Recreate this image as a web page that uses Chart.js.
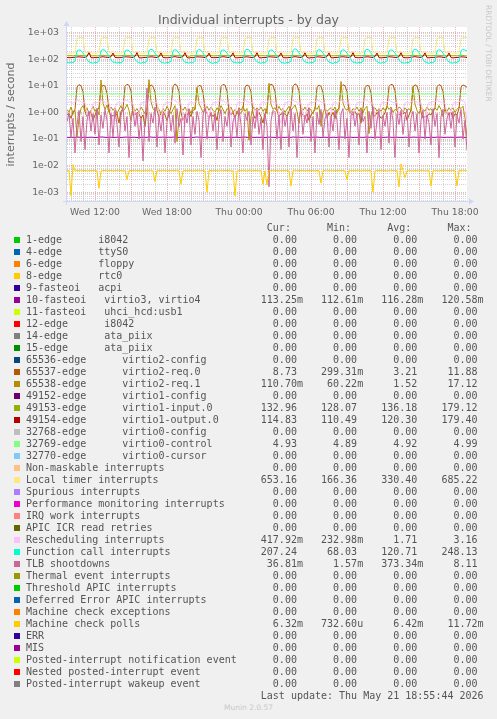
<!DOCTYPE html>
<html>
<head>
<meta charset="utf-8">
<title>Individual interrupts - by day</title>
<script src="https://cdn.jsdelivr.net/npm/chart.js@4.4.1/dist/chart.umd.min.js"></script>
<style>
  html, body { margin: 0; padding: 0; background: #F0F0F0; }
  #wrap { position: relative; width: 497px; height: 719px; overflow: hidden; }
  #chart { position: absolute; left: 0; top: 0; }
  .title { position: absolute; left: 0; top: 12px; width: 497px; text-align: center;
           font: 12.5px 'DejaVu Sans'; line-height: 15px; color: #666; }
  .brand { position: absolute; left: 484px; top: 5px; writing-mode: vertical-rl;
           font: 7.5px 'DejaVu Sans'; color: #C8C8C8; white-space: nowrap; }
  .munin { position: absolute; left: 0; top: 702px; width: 497px; text-align: center;
           font: 7.5px 'DejaVu Sans'; line-height: 11px; color: #C8C8C8; }
  #legend { position: absolute; left: 26px; top: 222px; margin: 0;
            font: 10px 'DejaVu Sans Mono'; line-height: 12px; color: #555; white-space: pre; }
  .sw { position: absolute; left: 14px; width: 6px; height: 6px; }
</style>
</head>
<body>
<div id="wrap">
  <canvas id="chart" width="497" height="230"></canvas>
  <div class="title">Individual interrupts - by day</div>
  <div class="brand">RRDTOOL / TOBI OETIKER</div>
  <pre id="legend"></pre>
  <div class="munin">Munin 2.0.57</div>
</div>
<script>
// 10 minute samples, Wed 09:40 .. Thu 19:00 (hours counted from Wed 00:00)
const startHour = 9 + 40 / 60;
const stepHour = 10 / 60;
const endHour = 43;

const xTickHours = [12, 18, 24, 30, 36, 42];
const xTickLabels = ['Wed 12:00', 'Wed 18:00', 'Thu 00:00', 'Thu 06:00', 'Thu 12:00', 'Thu 18:00'];
const yDecades = [1e-3, 1e-2, 1e-1, 1, 10, 100, 1000];
const yTickLabels = ['1e-03', '1e-02', '1e-01', '1e+00', '1e+01', '1e+02', '1e+03'];
const yMin = 4.28e-4, yMax = 1630;

// legend rows
const labels = [
  '1-edge      i8042', '4-edge      ttyS0', '6-edge      floppy', '8-edge      rtc0',
  '9-fasteoi   acpi', '10-fasteoi   virtio3, virtio4', '11-fasteoi   uhci_hcd:usb1',
  '12-edge      i8042', '14-edge      ata_piix', '15-edge      ata_piix',
  '65536-edge      virtio2-config', '65537-edge      virtio2-req.0', '65538-edge      virtio2-req.1',
  '49152-edge      virtio1-config', '49153-edge      virtio1-input.0', '49154-edge      virtio1-output.0',
  '32768-edge      virtio0-config', '32769-edge      virtio0-control', '32770-edge      virtio0-cursor',
  'Non-maskable interrupts', 'Local timer interrupts', 'Spurious interrupts',
  'Performance monitoring interrupts', 'IRQ work interrupts', 'APIC ICR read retries',
  'Rescheduling interrupts', 'Function call interrupts', 'TLB shootdowns',
  'Thermal event interrupts', 'Threshold APIC interrupts', 'Deferred Error APIC interrupts',
  'Machine check exceptions', 'Machine check polls', 'ERR', 'MIS',
  'Posted-interrupt notification event', 'Nested posted-interrupt event', 'Posted-interrupt wakeup event'
];
const colors = [
  '#00CC00', '#0066B3', '#FF8000', '#FFCC00', '#330099', '#990099', '#CCFF00', '#FF0000', '#808080',
  '#008F00', '#00487D', '#B35A00', '#B38F00', '#6B006B', '#8FB300', '#B30000', '#BEBEBE', '#80FF80',
  '#80C9FF', '#FFC080', '#FFE680', '#AA80FF', '#EE00CC', '#FF8080', '#666600', '#FFBFFF', '#00FFCC',
  '#CC6699', '#999900', '#00CC00', '#0066B3', '#FF8000', '#FFCC00', '#330099', '#990099', '#CCFF00',
  '#FF0000', '#808080'
];
const curVals = ['0.00','0.00','0.00','0.00','0.00','113.25m','0.00','0.00','0.00','0.00','0.00','8.73','110.70m',
  '0.00','132.96','114.83','0.00','4.93','0.00','0.00','653.16','0.00','0.00','0.00','0.00','417.92m','207.24',
  '36.81m','0.00','0.00','0.00','0.00','6.32m','0.00','0.00','0.00','0.00','0.00'];
const minVals = ['0.00','0.00','0.00','0.00','0.00','112.61m','0.00','0.00','0.00','0.00','0.00','299.31m','60.22m',
  '0.00','128.07','110.49','0.00','4.89','0.00','0.00','166.36','0.00','0.00','0.00','0.00','232.98m','68.03',
  '1.57m','0.00','0.00','0.00','0.00','732.60u','0.00','0.00','0.00','0.00','0.00'];
const avgVals = ['0.00','0.00','0.00','0.00','0.00','116.28m','0.00','0.00','0.00','0.00','0.00','3.21','1.52',
  '0.00','136.18','120.30','0.00','4.92','0.00','0.00','330.40','0.00','0.00','0.00','0.00','1.71','120.71',
  '373.34m','0.00','0.00','0.00','0.00','6.42m','0.00','0.00','0.00','0.00','0.00'];
const maxVals = ['0.00','0.00','0.00','0.00','0.00','120.58m','0.00','0.00','0.00','0.00','0.00','11.88','17.12',
  '0.00','179.12','179.40','0.00','4.99','0.00','0.00','685.22','0.00','0.00','0.00','0.00','3.16','248.13',
  '8.11','0.00','0.00','0.00','0.00','11.72m','0.00','0.00','0.00','0.00','0.00'];
const lastUpdate = 'Last update: Thu May 21 18:55:44 2026';

// series (one row = 2 hours)
const fasteoi10 = [
  0.116,0.115,0.117,0.116,0.114,0.118,0.117,0.115,0.116,0.117,0.115,0.116,
  0.117,0.116,0.114,0.115,0.117,0.119,0.118,0.116,0.115,0.116,0.117,0.115,
  0.115,0.117,0.116,0.114,0.116,0.118,0.117,0.116,0.115,0.117,0.116,0.114,
  0.116,0.115,0.117,0.116,0.115,0.121,0.118,0.116,0.117,0.115,0.116,0.117,
  0.117,0.116,0.115,0.117,0.116,0.118,0.117,0.115,0.116,0.116,0.117,0.115,
  0.115,0.117,0.116,0.115,0.117,0.119,0.116,0.117,0.115,0.116,0.118,0.116,
  0.116,0.115,0.117,0.116,0.114,0.117,0.118,0.116,0.115,0.117,0.116,0.115,
  0.117,0.116,0.115,0.116,0.117,0.118,0.116,0.115,0.117,0.116,0.115,0.117,
  0.115,0.117,0.116,0.1126,0.116,0.118,0.117,0.116,0.115,0.117,0.116,0.115,
  0.116,0.115,0.117,0.116,0.115,0.119,0.117,0.116,0.117,0.115,0.116,0.117,
  0.117,0.116,0.115,0.117,0.116,0.118,0.116,0.115,0.116,0.117,0.115,0.116,
  0.115,0.117,0.116,0.115,0.117,0.118,0.117,0.116,0.115,0.116,0.117,0.115,
  0.116,0.115,0.117,0.116,0.115,0.117,0.118,0.116,0.117,0.115,0.116,0.117,
  0.117,0.116,0.115,0.116,0.117,0.119,0.116,0.115,0.116,0.117,0.115,0.116,
  0.115,0.117,0.116,0.115,0.116,0.118,0.117,0.116,0.115,0.117,0.116,0.115,
  0.116,0.115,0.117,0.116,0.115,0.118,0.116,0.117,0.116,0.115,0.117,0.116,
  0.117,0.116,0.115,0.116,0.117,0.118,0.116,0.115,0.11325
];
const virtio2Req0 = [
  0.8,0.9,0.6,1.0,1.3,9.0,11.2,10.1,6.0,1.1,0.7,0.9,
  1.0,0.5,0.8,1.2,1.5,8.4,10.6,9.8,5.2,1.3,0.6,0.8,
  0.7,0.9,0.4,1.1,1.4,9.6,11.5,10.4,6.4,0.9,0.8,1.0,
  0.9,0.6,0.8,0.3,1.2,8.8,10.9,9.5,5.8,1.2,0.7,0.9,
  1.1,0.8,0.5,0.9,1.6,9.2,11.8,10.2,6.1,1.0,0.5,0.8,
  0.8,1.0,0.7,1.2,1.3,8.6,10.4,9.9,5.5,1.4,0.9,0.6,
  0.9,0.7,0.9,0.5,1.5,9.4,11.3,10.6,6.3,1.1,0.8,1.0,
  0.6,1.1,0.8,1.0,1.2,8.9,10.8,9.7,5.9,0.9,0.6,0.8,
  1.0,0.7,0.4,0.9,1.4,9.1,11.6,10.3,6.2,1.2,0.7,0.9,
  0.8,0.9,0.7,1.1,1.7,9.7,11.88,10.5,6.5,1.0,0.8,0.6,
  0.9,0.5,0.8,1.0,1.3,8.7,10.7,9.6,5.6,1.3,0.6,1.0,
  0.7,1.0,0.6,1.2,1.5,9.3,11.1,10.0,6.0,1.1,0.9,0.8,
  1.1,0.8,0.9,0.4,1.4,8.5,10.5,9.9,5.4,0.9,0.7,1.0,
  0.8,0.6,0.7,1.0,1.6,9.5,11.4,10.7,6.6,1.2,0.8,0.9,
  0.9,1.0,0.5,0.8,1.2,8.8,10.9,9.8,5.7,1.0,0.6,0.7,
  0.7,0.9,0.8,1.1,1.5,9.2,11.2,10.1,6.2,1.3,0.9,0.8,
  1.0,0.6,0.9,0.8,1.4,9.0,10.8,9.9,8.73
];
const virtio2Req1 = [
  1.3,1.0,1.6,0.9,1.2,0.12,0.6,1.4,1.8,1.1,1.5,0.9,
  1.2,1.7,1.1,1.4,0.8,16.5,2.2,1.3,1.9,1.0,1.6,1.2,
  1.5,0.9,1.3,1.8,1.1,1.4,2.0,1.2,0.5,1.6,1.1,1.4,
  1.0,1.6,1.2,0.9,1.5,17.12,2.5,1.4,1.1,1.7,1.3,0.9,
  1.4,1.1,1.7,1.2,0.9,1.3,1.8,0.08,0.6,1.5,1.2,1.6,
  1.1,1.4,0.9,1.6,1.3,8.5,2.1,1.5,1.0,1.3,1.7,1.2,
  1.6,1.2,1.0,1.5,1.1,1.8,1.3,0.9,1.4,1.2,1.6,1.0,
  1.3,0.9,1.5,1.2,1.7,1.1,1.4,0.09,0.7,1.6,1.2,1.5,
  1.2,1.6,1.1,1.4,0.9,12.5,2.0,1.3,1.5,1.1,1.7,1.2,
  1.4,1.0,1.3,1.7,1.2,1.5,1.9,1.1,0.4,1.5,1.2,1.6,
  1.1,1.5,1.2,0.9,1.6,1.3,1.8,0.3,1.0,1.4,1.1,1.3,
  1.5,1.2,1.6,1.0,1.3,14.5,2.3,1.4,1.2,1.6,1.0,1.4,
  1.2,1.6,1.1,1.5,1.0,1.4,1.7,0.16,0.8,1.3,1.5,1.1,
  1.4,1.1,1.5,1.2,1.7,1.3,1.6,1.0,1.3,1.2,1.6,1.4,
  1.0,1.5,1.2,1.4,1.1,9.5,2.0,1.2,0.9,1.5,1.3,1.1,
  1.6,1.2,1.4,1.0,1.5,1.2,1.8,1.3,0.7,1.4,1.1,1.5,
  1.2,1.5,1.0,1.3,1.6,1.4,1.7,0.6,0.1107
];
const virtio1Input = [
  136,135,137,134,138,140,141,138,136,135,137,179,
  135,134,136,133,137,139,140,138,135,134,136,141,
  136,135,134,136,138,141,140,137,136,135,137,142,
  134,136,135,137,136,140,139,138,135,136,134,140,
  136,135,137,134,138,141,140,137,136,135,137,142,
  135,128,136,135,137,139,141,138,135,134,136,141,
  137,135,134,136,138,140,139,138,136,135,137,140,
  134,136,135,137,136,141,140,137,135,136,134,142,
  136,135,137,134,138,140,141,138,136,135,137,141,
  135,134,136,135,137,139,140,138,135,134,136,140,
  136,135,134,136,138,141,139,137,136,135,137,142,
  134,136,135,137,136,140,141,138,135,136,134,141,
  136,135,137,134,138,139,140,137,136,135,137,140,
  135,134,136,135,137,141,140,138,135,134,136,142,
  137,135,134,136,138,140,139,137,136,135,137,141,
  134,136,135,137,136,141,140,138,135,136,134,140,
  136,135,137,134,138,140,139,135,132.96
];
const virtio1Output = [
  116,114,115,117,119,122,123,121,119,117,126,176,
  115,113,116,114,118,121,124,120,118,116,125,172,
  117,115,114,116,120,123,122,121,119,115,127,179,
  114,112,115,117,118,121,123,122,117,116,124,174,
  116,114,113,115,119,122,125,120,118,117,126,177,
  115,111,116,114,120,123,122,121,119,115,125,171,
  117,115,114,116,118,121,124,122,118,116,127,175,
  114,113,115,117,119,122,123,120,117,115,124,178,
  116,112,116,115,120,124,122,121,119,117,126,173,
  115,114,113,116,118,121,125,122,118,116,125,176,
  117,110.5,115,114,119,123,122,120,117,115,127,174,
  114,113,116,117,120,122,124,121,119,116,124,179.4,
  116,115,114,115,118,121,123,122,118,117,126,172,
  115,112,115,116,119,124,122,120,117,115,125,177,
  117,114,113,114,120,122,125,121,119,116,127,175,
  114,113,116,117,118,121,123,122,118,115,124,173,
  116,112,115,116,119,123,122,120,114.83
];
const virtio0Control = [
  4.92,4.91,4.93,4.92,4.90,4.94,4.92,4.91,4.93,4.92,4.91,4.95,
  4.92,4.93,4.91,4.92,4.90,4.93,4.94,4.92,4.91,4.92,4.93,4.92,
  4.91,4.92,4.93,4.90,4.92,4.94,4.93,4.91,4.92,4.93,4.91,4.92,
  4.93,4.92,4.91,4.92,4.93,4.99,4.94,4.92,4.91,4.92,4.90,4.93,
  4.92,4.91,4.92,4.93,4.91,4.94,4.92,4.93,4.92,4.91,4.92,4.92,
  4.91,4.93,4.92,4.91,4.92,4.93,4.94,4.92,4.91,4.93,4.92,4.91,
  4.92,4.92,4.89,4.92,4.93,4.94,4.92,4.91,4.92,4.93,4.91,4.92,
  4.93,4.91,4.92,4.93,4.92,4.93,4.94,4.92,4.91,4.92,4.93,4.92,
  4.92,4.93,4.91,4.92,4.91,4.94,4.93,4.92,4.93,4.91,4.92,4.93,
  4.91,4.92,4.93,4.91,4.92,4.93,4.92,4.91,4.92,4.93,4.92,4.91,
  4.92,4.91,4.92,4.93,4.91,4.95,4.93,4.92,4.91,4.92,4.93,4.92,
  4.93,4.92,4.91,4.92,4.93,4.93,4.92,4.91,4.93,4.92,4.91,4.92,
  4.92,4.93,4.92,4.91,4.92,4.94,4.93,4.92,4.92,4.91,4.92,4.93,
  4.91,4.92,4.93,4.92,4.91,4.93,4.94,4.92,4.91,4.93,4.92,4.91,
  4.92,4.91,4.92,4.93,4.92,4.94,4.92,4.91,4.92,4.92,4.93,4.92,
  4.93,4.92,4.91,4.92,4.93,4.93,4.92,4.93,4.91,4.92,4.91,4.92,
  4.92,4.93,4.92,4.91,4.92,4.94,4.93,4.92,4.93
];
const localTimer = [
  172,169,174,170,177,618,662,648,640,181,176,198,
  171,168,173,171,176,605,651,660,636,179,174,205,
  173,170,172,169,178,622,668,655,642,183,177,201,
  171,167,175,170,175,610,657,649,633,180,173,196,
  169,168,171,172,177,615,663,671,645,178,175,203,
  172,170,174,168,179,608,650,646,630,182,176,199,
  170,166.4,172,171,176,620,672,660,648,180,174,207,
  173,169,175,170,178,612,659,652,637,177,178,195,
  171,168,173,169,177,606,648,664,641,181,175,202,
  172,170,171,172,176,618,676,685.2,650,179,173,198,
  170,167,174,170,178,611,656,648,634,183,176,204,
  173,169,172,171,175,616,662,657,643,180,174,197,
  171,168,175,169,177,609,653,661,639,178,177,201,
  172,166.5,173,170,179,621,670,654,646,182,175,206,
  170,169,171,172,176,613,658,650,636,179,173,196,
  173,170,174,168,178,607,651,667,644,181,176,203,
  171,168,172,170,177,615,660,658,653.16
];
const rescheduling = [
  2.3,2.5,2.4,2.2,2.6,2.9,2.7,2.5,2.3,2.4,0.8,0.5,
  0.9,2.2,2.4,2.3,2.5,2.8,2.6,2.4,2.2,2.3,1.1,0.4,
  1.4,2.3,2.5,2.2,2.4,3.0,2.8,2.5,2.3,2.2,0.7,0.35,
  1.0,2.4,2.3,2.5,2.6,2.9,2.6,2.4,2.3,2.4,0.9,0.6,
  1.6,2.2,2.4,2.3,2.5,3.16,2.7,2.5,2.2,2.3,0.6,0.3,
  1.2,2.3,2.5,2.2,2.4,2.8,2.6,2.4,2.3,2.2,1.0,0.5,
  1.5,2.4,2.3,2.4,2.6,2.9,2.7,2.5,2.2,2.3,0.8,0.233,
  0.9,2.2,2.4,2.3,2.5,2.8,2.6,2.4,2.3,2.4,1.2,0.45,
  1.3,2.3,2.5,2.2,2.4,3.0,2.8,2.5,2.3,2.2,0.7,0.4,
  1.1,2.4,2.3,2.5,2.6,2.9,2.6,2.4,2.2,2.3,0.9,0.55,
  1.6,2.2,2.4,2.3,2.5,2.8,2.7,2.5,2.3,2.4,0.6,0.3,
  1.0,2.3,2.5,2.2,2.4,2.9,2.6,2.4,2.2,2.3,1.1,0.5,
  1.4,2.4,2.3,2.4,2.6,3.0,2.8,2.5,2.3,2.2,0.8,0.35,
  0.9,2.2,2.4,2.3,2.5,2.8,2.6,2.4,2.3,2.4,0.7,0.45,
  1.2,2.3,2.5,2.2,2.4,2.9,2.7,2.5,2.2,2.3,1.0,0.4,
  1.5,2.4,2.3,2.5,2.6,2.8,2.6,2.4,2.3,2.2,0.9,0.5,
  1.1,2.2,2.4,2.3,2.5,2.9,2.7,2.5,0.418
];
const functionCall = [
  76,73,78,74,86,208,226,214,172,128,98,79,
  74,71,77,75,88,212,231,219,168,131,95,77,
  77,72,76,73,84,205,224,210,175,126,101,80,
  75,70,78,74,87,215,236,221,170,133,97,78,
  73,72,75,76,85,209,229,216,166,129,94,76,
  76,71,79,73,89,211,233,218,173,127,99,79,
  74,69,77,75,86,207,225,212,169,132,96,77,
  77,72,76,74,84,214,238,224,176,130,100,80,
  75,70,78,73,88,206,227,213,167,128,95,76,
  73,71,75,76,85,218,248,226,174,134,98,79,
  76,72,77,74,87,210,230,217,171,129,97,78,
  74,68,78,75,86,208,228,215,168,131,96,77,
  77,71,76,73,84,213,235,222,173,127,101,80,
  75,70,79,74,89,209,226,214,170,133,94,76,
  73,72,75,76,85,216,240,223,175,130,99,79,
  76,69,77,74,87,207,229,216,169,128,97,78,
  74,71,78,75,86,212,231,219,207.24
];
const tlbShootdowns = [
  0.45,0.9,0.12,0.6,0.03,0.35,1.2,0.08,0.7,0.04,0.5,1.1,
  0.2,0.9,0.15,1.4,0.06,0.8,0.25,1.3,0.5,0.03,0.9,0.12,
  1.2,0.35,0.05,0.8,1.5,0.2,0.7,0.02,0.6,1.1,0.3,0.9,
  0.1,0.6,0.015,0.5,8.11,0.08,0.9,0.4,1.6,0.05,0.7,0.2,
  0.9,0.03,0.45,1.2,0.2,0.8,0.07,1.4,0.3,0.6,0.025,0.9,
  0.4,1.3,0.06,0.7,0.15,1.1,0.5,0.02,0.8,1.5,0.1,0.6,
  1.0,0.2,0.9,0.04,0.55,1.3,0.08,0.7,0.3,1.2,0.05,0.45,
  0.8,0.12,1.4,0.35,0.03,0.9,0.5,1.1,0.06,0.7,0.25,1.3,
  0.15,0.6,0.04,0.9,0.3,0.0016,0.5,1.2,1.0,0.1,0.8,0.04,
  1.1,0.3,0.7,0.05,1.4,0.2,0.9,0.02,0.6,1.2,0.15,0.8,
  0.4,1.5,0.08,0.7,0.03,1.0,0.35,1.3,0.12,0.6,0.9,0.05,
  0.7,0.2,1.2,0.5,0.04,0.9,1.4,0.1,0.6,0.02,0.8,1.1,
  0.3,0.9,0.06,1.3,0.45,0.7,0.03,1.1,0.25,1.6,0.1,0.5,
  1.2,0.04,0.8,0.3,1.0,0.07,1.4,0.5,0.02,0.9,0.35,1.2,
  0.15,0.7,1.3,0.05,0.6,1.1,0.2,0.9,0.03,0.5,1.2,0.1,
  0.8,0.4,0.06,1.4,0.3,0.9,0.02,0.7,1.3,0.15,0.6,1.0,
  0.25,1.1,0.05,0.8,0.4,1.3,0.1,0.5,0.0368
];
const machineCheckPolls = [
  0.0064,0.0067,0.00075,0.0110,0.0063,0.0066,0.0065,0.0068,0.0064,0.0066,0.0063,0.0065,
  0.0066,0.0064,0.0067,0.0063,0.0014,0.0062,0.0066,0.0065,0.0068,0.0064,0.0066,0.0063,
  0.0065,0.0067,0.0064,0.0066,0.0063,0.0068,0.0030,0.0064,0.0066,0.0065,0.0067,0.0064,
  0.0066,0.0063,0.0065,0.0067,0.0064,0.0066,0.0068,0.0063,0.0025,0.0065,0.0066,0.0064,
  0.0067,0.0065,0.0063,0.0066,0.0064,0.0067,0.0065,0.0068,0.0064,0.0020,0.0063,0.0066,
  0.0065,0.0064,0.0067,0.0063,0.0066,0.0065,0.0068,0.0064,0.0066,0.0063,0.0010,0.0065,
  0.0066,0.0064,0.0067,0.0065,0.0063,0.0068,0.0064,0.0066,0.0065,0.0067,0.0063,0.0065,
  0.00073,0.0062,0.0066,0.0064,0.0067,0.0065,0.0063,0.0066,0.0068,0.0064,0.0066,0.0065,
  0.0063,0.0067,0.0020,0.0064,0.0019,0.0066,0.0065,0.0067,0.0064,0.0066,0.0063,0.0065,
  0.0066,0.0064,0.0067,0.0063,0.0017,0.0065,0.0068,0.0064,0.0066,0.0065,0.0067,0.0063,
  0.0065,0.0066,0.0064,0.0067,0.0063,0.0066,0.0065,0.0022,0.0064,0.0066,0.0068,0.0064,
  0.0067,0.0063,0.0065,0.0066,0.0064,0.0067,0.0065,0.0063,0.0030,0.0066,0.0064,0.0065,
  0.0064,0.0066,0.0068,0.0063,0.0065,0.0067,0.0064,0.0066,0.0065,0.0010,0.0063,0.0066,
  0.0065,0.0067,0.0064,0.0066,0.0063,0.0065,0.0068,0.0064,0.0066,0.0065,0.0016,0.01172,
  0.0066,0.0035,0.0064,0.0067,0.0065,0.0063,0.0066,0.0064,0.0068,0.0065,0.0067,0.0063,
  0.0065,0.0066,0.0017,0.0064,0.0067,0.0065,0.0063,0.0066,0.0064,0.0068,0.0065,0.0066,
  0.0064,0.0067,0.0065,0.0017,0.0066,0.0064,0.0068,0.0065,0.00632
];

// legend row index -> values (everything else is 0 and does not show on a log axis)
const drawn = [
  [5, fasteoi10], [11, virtio2Req0], [12, virtio2Req1], [14, virtio1Input], [15, virtio1Output],
  [17, virtio0Control], [20, localTimer], [25, rescheduling], [26, functionCall],
  [27, tlbShootdowns], [32, machineCheckPolls]
];

function toPoints(values) {
  return values.map((v, i) => ({ x: startHour + i * stepHour, y: v }));
}

function isDecade(v) {
  const l = Math.log10(v);
  return Math.abs(l - Math.round(l)) < 1e-9;
}

const GRID = 'rgba(143,143,143,0.38)';
const MGRID = 'rgba(222,79,79,0.42)';

// white canvas behind the plot, like rrdtool
const plotBackground = {
  id: 'plotBackground',
  beforeDraw(chart) {
    const { ctx, chartArea: a } = chart;
    ctx.save();
    ctx.fillStyle = '#FFFFFF';
    ctx.fillRect(a.left, a.top, a.right - a.left, a.bottom - a.top);
    ctx.restore();
  }
};

// axis lines with arrow heads
const axisArrows = {
  id: 'axisArrows',
  afterDraw(chart) {
    const { ctx, chartArea: a } = chart;
    const x0 = a.left - 0.5, y0 = a.bottom - 0.5;
    ctx.save();
    ctx.strokeStyle = '#CFD6F8';
    ctx.fillStyle = '#CFD6F8';
    ctx.lineWidth = 1;
    ctx.beginPath();
    ctx.moveTo(a.left - 4, y0);
    ctx.lineTo(a.right + 3, y0);
    ctx.moveTo(x0, a.bottom + 3);
    ctx.lineTo(x0, a.top - 2);
    ctx.stroke();
    ctx.beginPath();
    ctx.moveTo(a.right + 7, y0);
    ctx.lineTo(a.right + 2, y0 - 3);
    ctx.lineTo(a.right + 2, y0 + 3);
    ctx.closePath();
    ctx.moveTo(x0, a.top - 6);
    ctx.lineTo(x0 - 3, a.top - 1);
    ctx.lineTo(x0 + 3, a.top - 1);
    ctx.closePath();
    ctx.fill();
    ctx.restore();
  }
};

Chart.defaults.font.family = 'DejaVu Sans';

const ctx = document.getElementById('chart').getContext('2d');
const interruptChart = new Chart(ctx, {
  type: 'line',
  data: {
    datasets: drawn.map(([idx, values]) => ({
      label: labels[idx],
      data: toPoints(values),
      borderColor: colors[idx],
      backgroundColor: colors[idx],
      borderWidth: 1,
      pointRadius: 0,
      tension: 0,
      fill: false,
      order: -idx
    }))
  },
  options: {
    responsive: false,
    animation: false,
    events: [],
    layout: { padding: { top: 27, right: 30, left: 0, bottom: 0 } },
    plugins: {
      legend: { display: false },
      tooltip: { enabled: false }
    },
    scales: {
      x: {
        type: 'linear',
        min: startHour,
        max: endHour,
        afterFit(scale) { scale.height = 28; },
        afterBuildTicks(scale) {
          const ticks = [];
          for (let h = Math.ceil(startHour); h < endHour; h++) ticks.push({ value: h });
          scale.ticks = ticks;
        },
        ticks: {
          autoSkip: false,
          maxRotation: 0,
          padding: 5,
          color: '#666',
          font: { size: 9.3 },
          callback(v) {
            const i = xTickHours.indexOf(v);
            return i >= 0 ? xTickLabels[i] : '';
          }
        },
        grid: {
          drawTicks: false,
          lineWidth: 1,
          color: (c) => (c.tick && c.tick.value % 3 === 0 ? MGRID : GRID)
        },
        border: { display: false, dash: [1, 1] }
      },
      y: {
        type: 'logarithmic',
        min: yMin,
        max: yMax,
        afterFit(scale) { scale.width = 67; },
        afterBuildTicks(scale) {
          const ticks = [];
          for (let e = -4; e <= 3; e++) {
            for (let m = 1; m <= 9; m++) {
              const v = m * Math.pow(10, e);
              if (v >= yMin && v <= yMax) ticks.push({ value: v });
            }
          }
          scale.ticks = ticks;
        },
        ticks: {
          autoSkip: false,
          padding: 8,
          color: '#666',
          font: { size: 9.3 },
          callback(v) {
            const i = yDecades.findIndex((d) => Math.abs(d - v) / d < 1e-9);
            return i >= 0 ? yTickLabels[i] : '';
          }
        },
        title: {
          display: true,
          text: 'interrupts / second',
          color: '#666',
          font: { size: 11 },
          padding: { top: 4.5, bottom: 0 }
        },
        grid: {
          drawTicks: false,
          lineWidth: 1,
          color: (c) => (c.tick && isDecade(c.tick.value) ? MGRID : GRID)
        },
        border: { display: false, dash: [1, 1] }
      }
    }
  },
  plugins: [plotBackground, axisArrows]
});

// rrdtool style legend
function field(s) {
  const unit = /[a-z]$/i.test(s) ? s.slice(-1) : ' ';
  const num = unit === ' ' ? s : s.slice(0, -1);
  return num.padStart(6) + unit;
}
const lines = [' '.repeat(40) + 'Cur:' + ' '.repeat(6) + 'Min:' + ' '.repeat(6) + 'Avg:' + ' '.repeat(6) + 'Max:'];
labels.forEach((name, i) => {
  lines.push(name.padEnd(39) + field(curVals[i]) + '   ' + field(minVals[i]) + '   ' +
             field(avgVals[i]) + '   ' + field(maxVals[i]));
  const sw = document.createElement('div');
  sw.className = 'sw';
  sw.style.top = (237 + 12 * i) + 'px';
  sw.style.background = colors[i];
  document.getElementById('wrap').appendChild(sw);
});
lines.push(' '.repeat(39) + lastUpdate);
document.getElementById('legend').textContent = lines.join('\n');
</script>
</body>
</html>
